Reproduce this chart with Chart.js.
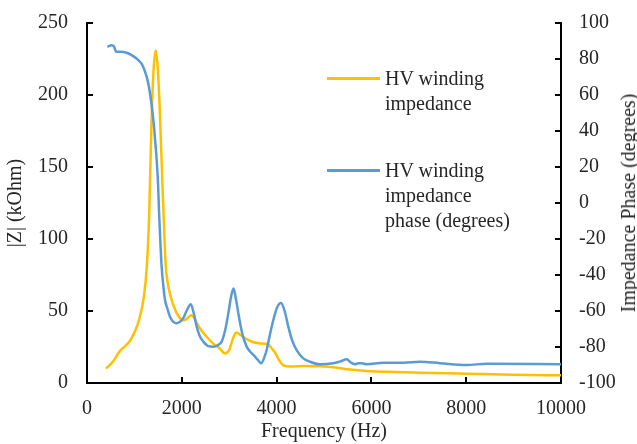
<!DOCTYPE html>
<html>
<head>
<meta charset="utf-8">
<script src="https://cdn.jsdelivr.net/npm/chart.js@4.4.0/dist/chart.umd.min.js"></script>
<style>
  html, body { margin: 0; padding: 0; background: #fff; }
  #wrap { position: relative; width: 637px; height: 444px; overflow: hidden; }
  canvas { display: block; }
  .leg { position: absolute; font-family: "Liberation Serif", "Times New Roman", serif; font-size: 20px; line-height: 25px; color: #262626; white-space: nowrap; }
  .sw { position: absolute; height: 3px; }
  .rt { position: absolute; font-family: "Liberation Serif", "Times New Roman", serif; font-size: 20px; line-height: 20px; color: #262626; white-space: nowrap; transform: translate(-50%, -50%) rotate(-90deg); }
</style>
</head>
<body>
<div id="wrap">
  <canvas id="c" width="637" height="444"></canvas>
  <div class="sw" style="left:327px; top:77px; width:53px; background:#FFC000;"></div>
  <div class="leg" style="left:385px; top:66px;">HV winding<br>impedance</div>
  <div class="sw" style="left:327px; top:169px; width:53px; background:#5B9BD5;"></div>
  <div class="leg" style="left:385px; top:158px;">HV winding<br>impedance<br>phase (degrees)</div>
  <div class="rt" id="rtitle" style="left:628px; top:203px;">Impedance Phase (degrees)</div>
</div>
<script>
// Impedance magnitude |Z| (kOhm)
const zFreq = [400,550,700,800,900,1000,1100,1200,1260,1310,1360,1400,1450,1500,1540,1600,1630,1660,1700,1750,1900,2050,2200,2380,2500,2660,2800,2910,3000,3080,3150,3250,3400,3500,3650,3820,3900,3970,4050,4140,4300,4600,4900,5200,5550,5900,6500,7000,8000,9000,10000];
const zVals = [10,15,22.5,25.5,29,35,44,60,80,115,180,215,231,215,185,130,105,82,70,62,48,43.5,47,38,33,27.5,24,20.5,23,31,35,33,30,28.5,27.5,26.8,24,21,16,12.3,11.5,11.8,11.6,11,9.3,8.3,7.6,7.2,6.5,5.8,5.3];

// Impedance phase (degrees)
const pFreq = [430,520,570,612,700,837,950,1083,1160,1224,1280,1329,1370,1414,1440,1470,1500,1520,1545,1575,1610,1646,1700,1751,1820,1892,1960,2032,2100,2190,2250,2314,2380,2454,2560,2666,2760,2841,2920,2982,3040,3090,3140,3193,3280,3368,3440,3509,3600,3671,3730,3790,3860,3931,4010,4093,4170,4247,4330,4423,4550,4705,4916,5197,5350,5478,5560,5654,5730,5795,5900,6252,6673,7025,7447,8010,8432,10000];
const pVals = [86.8,87.6,87,84,84,83.5,82,79.4,77,73,68,61,53,42.4,34,23.9,10,-5,-20,-35.4,-46,-53.9,-59,-63.2,-66,-66.8,-66,-64,-60,-56.2,-61,-68.7,-74,-77,-79.5,-79.8,-79,-77,-70,-61.3,-52,-47.5,-53,-61.3,-73,-79.8,-82.5,-84.4,-87,-89,-86.5,-81.7,-73,-65,-58,-55.5,-60,-68.7,-76.5,-81.7,-86,-88.2,-89.6,-89,-88,-86.8,-88.5,-89.6,-89,-89,-89.6,-88.7,-88.7,-88.2,-89,-90,-89.3,-89.6];

const xTicks = [0,2000,4000,6000,8000,10000];
const yTicks = [0,50,100,150,200,250];
const y1Ticks = [-100,-80,-60,-40,-20,0,20,40,60,80,100];

const FONT = "'Liberation Serif', 'Times New Roman', serif";
const TXT = '#262626';

const innerTicks = {
  id: 'innerTicks',
  afterDraw(chart) {
    const ctx = chart.ctx;
    const a = chart.chartArea;
    const L = 6;
    ctx.save();
    ctx.strokeStyle = '#000';
    ctx.lineWidth = 2;
    ctx.beginPath();
    chart.scales.x.ticks.forEach(t => {
      const px = Math.round(chart.scales.x.getPixelForValue(t.value));
      ctx.moveTo(px, a.bottom); ctx.lineTo(px, a.bottom - L);
    });
    chart.scales.y.ticks.forEach(t => {
      const py = Math.round(chart.scales.y.getPixelForValue(t.value));
      ctx.moveTo(a.left, py); ctx.lineTo(a.left + L, py);
    });
    chart.scales.y1.ticks.forEach(t => {
      const py = Math.round(chart.scales.y1.getPixelForValue(t.value));
      ctx.moveTo(a.right, py); ctx.lineTo(a.right - L, py);
    });
    ctx.stroke();
    ctx.restore();
  }
};

function zeroPad(s) { s.paddingTop = 0; s.paddingBottom = 0; s.paddingLeft = 0; s.paddingRight = 0; }

new Chart(document.getElementById('c'), {
  type: 'line',
  data: {
    datasets: [
      {
        label: 'HV winding impedance',
        data: zFreq.map((f, i) => ({x: f, y: zVals[i]})),
        borderColor: '#FFC000',
        borderWidth: 2.5,
        pointRadius: 0,
        cubicInterpolationMode: 'monotone',
        yAxisID: 'y',
        order: 2
      },
      {
        label: 'HV winding impedance phase (degrees)',
        data: pFreq.map((f, i) => ({x: f, y: pVals[i]})),
        borderColor: '#5B9BD5',
        borderWidth: 2.5,
        pointRadius: 0,
        cubicInterpolationMode: 'monotone',
        yAxisID: 'y1',
        order: 1
      }
    ]
  },
  options: {
    responsive: false,
    animation: false,
    events: [],
    layout: { padding: { top: 23, left: 0, right: 0, bottom: 0 } },
    plugins: { legend: { display: false }, tooltip: { enabled: false } },
    scales: {
      x: {
        type: 'linear',
        min: 0, max: 10000,
        afterBuildTicks: s => { s.ticks = xTicks.map(v => ({value: v})); },
        afterFit: s => { s.height = 61; zeroPad(s); },
        grid: { display: true, drawOnChartArea: false, drawTicks: false },
        border: { display: true, color: '#000', width: 2 },
        ticks: { padding: 14, color: TXT, font: { family: FONT, size: 20 }, maxRotation: 0, callback: v => String(v) },
        title: { display: true, text: 'Frequency (Hz)', color: TXT, font: { family: FONT, size: 20, lineHeight: 1.2 }, padding: 0 }
      },
      y: {
        type: 'linear',
        position: 'left',
        min: 0, max: 250,
        afterBuildTicks: s => { s.ticks = yTicks.map(v => ({value: v})); },
        afterFit: s => { s.width = 87; zeroPad(s); },
        grid: { display: true, drawOnChartArea: false, drawTicks: false },
        border: { display: true, color: '#000', width: 2 },
        ticks: { padding: 19, color: TXT, font: { family: FONT, size: 20 }, callback: v => String(v) },
        title: { display: true, text: '|Z| (kOhm)', color: TXT, font: { family: FONT, size: 20, lineHeight: 1.2 }, padding: { top: 4, bottom: 0 } }
      },
      y1: {
        type: 'linear',
        position: 'right',
        min: -100, max: 100,
        afterBuildTicks: s => { s.ticks = y1Ticks.map(v => ({value: v})); },
        afterFit: s => { s.width = 76; zeroPad(s); },
        grid: { display: true, drawOnChartArea: false, drawTicks: false },
        border: { display: true, color: '#000', width: 2 },
        ticks: { padding: 18, color: TXT, font: { family: FONT, size: 20 }, callback: v => String(v) },
        title: { display: false }
      }
    }
  },
  plugins: [innerTicks]
});
</script>
</body>
</html>
